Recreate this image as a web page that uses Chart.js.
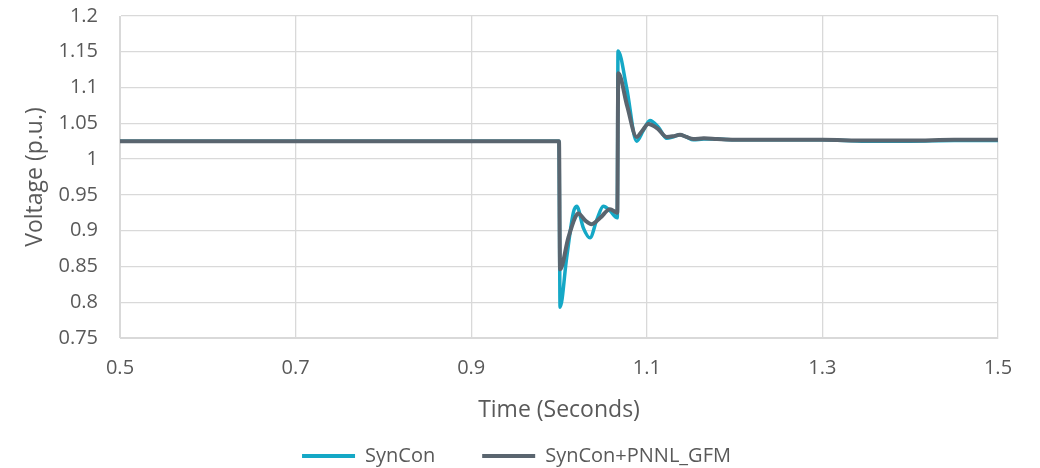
<!DOCTYPE html>
<html lang="en">
<head>
<meta charset="UTF-8">
<title>Voltage response</title>
<script src="https://cdn.jsdelivr.net/npm/chart.js"></script>
<style>
*{margin:0;padding:0;box-sizing:border-box;}
body{background:#fff;width:1040px;height:468px;overflow:hidden;}
</style>
</head>
<body>
<canvas id="chart" width="1040" height="468"></canvas>
<script>
// values
const synconTime=[0.5,1.0,1.0012,1.0087,1.0163,1.0202,1.0277,1.0353,1.043,1.0505,1.058,1.0664,1.0672,1.077,1.0884,1.096,1.1036,1.113,1.1227,1.13,1.1378,1.145,1.153,1.165,1.18,1.2,1.25,1.3,1.35,1.4,1.45,1.5];
const synconVolt=[1.025,1.025,0.793,0.862,0.925,0.934,0.904,0.890,0.915,0.934,0.928,0.918,1.151,1.10,1.025,1.04,1.054,1.045,1.029,1.031,1.034,1.031,1.027,1.028,1.028,1.027,1.027,1.027,1.025,1.025,1.026,1.026];
const gfmTime=[0.5,1.0,1.0012,1.0106,1.0182,1.022,1.03,1.037,1.047,1.058,1.0664,1.0675,1.0777,1.0884,1.095,1.1017,1.112,1.1227,1.13,1.1378,1.145,1.153,1.165,1.18,1.2,1.25,1.3,1.35,1.4,1.45,1.5];
const gfmVolt=[1.025,1.025,0.846,0.890,0.918,0.924,0.914,0.909,0.918,0.930,0.925,1.12,1.074,1.031,1.04,1.049,1.043,1.031,1.032,1.034,1.031,1.028,1.029,1.028,1.027,1.027,1.027,1.026,1.026,1.027,1.027];
const xTicks=[0.5,0.7,0.9,1.1,1.3,1.5];
const yTicks=[0.75,0.8,0.85,0.9,0.95,1,1.05,1.1,1.15,1.2];

function toPoints(xs,ys){return xs.map((x,i)=>({x:x,y:ys[i]}));}

const textColor='#595959';
const gridColor='#d9d9d9';
const font="'Open Sans', sans-serif";

new Chart(document.getElementById('chart'),{
type:'line',
data:{
datasets:[
{label:'SynCon',data:toPoints(synconTime,synconVolt),borderColor:'#15a8c6',backgroundColor:'#15a8c6',borderWidth:3.5,pointRadius:0,cubicInterpolationMode:'monotone',order:1},
{label:'SynCon+PNNL_GFM',data:toPoints(gfmTime,gfmVolt),borderColor:'#5a656f',backgroundColor:'#5a656f',borderWidth:4,pointRadius:0,cubicInterpolationMode:'monotone',order:0}
]
},
options:{
responsive:false,
animation:false,
devicePixelRatio:1,
layout:{padding:{top:16,right:7,left:0,bottom:-8}},
plugins:{
legend:{
position:'bottom',
labels:{
color:textColor,font:{family:font,size:20},boxWidth:53,boxHeight:4,padding:47,
sort:(a,b)=>a.datasetIndex-b.datasetIndex,
generateLabels:chart=>Chart.defaults.plugins.legend.labels.generateLabels(chart).map(l=>Object.assign(l,{lineWidth:0}))
}
},
tooltip:{enabled:false}
},
scales:{
x:{
type:'linear',min:0.5,max:1.5,
afterBuildTicks:s=>{s.ticks=xTicks.map(v=>({value:v}));},
afterFit:s=>{s.height=61;},
ticks:{color:textColor,font:{family:font,size:20},padding:18,maxRotation:0,callback:v=>String(v)},
grid:{color:gridColor,lineWidth:1.3,drawTicks:false},
border:{color:gridColor},
title:{display:true,text:'Time (Seconds)',color:textColor,font:{family:font,size:23},padding:{top:0,bottom:-25}}
},
y:{
min:0.75,max:1.2,
afterBuildTicks:s=>{s.ticks=yTicks.map(v=>({value:v}));},
afterFit:s=>{s.width=120;},
// invisible tick marks push the labels away from the axis without adding top padding
ticks:{color:textColor,font:{family:font,size:20},padding:0,callback:v=>String(v)},
grid:{color:gridColor,lineWidth:1.3,drawTicks:true,tickLength:22,tickColor:'rgba(0,0,0,0)'},
border:{color:gridColor},
title:{display:true,text:'Voltage (p.u.)',color:textColor,font:{family:font,size:23},padding:{top:22}}
},
// empty strip on the right so the chart area ends where the reference does
y2:{
position:'right',
afterFit:s=>{s.width=35;},
ticks:{display:false},
grid:{display:false},
border:{display:false}
}
}
}
});
</script>
</body>
</html>
